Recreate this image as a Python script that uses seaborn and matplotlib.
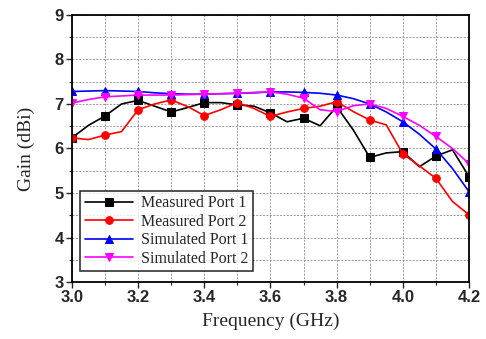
import numpy as np
import pandas as pd
import matplotlib
matplotlib.use("Agg")
import matplotlib.pyplot as plt
import seaborn as sns
from matplotlib.ticker import MultipleLocator

freq = [3.00, 3.05, 3.10, 3.15, 3.20, 3.25, 3.30, 3.35, 3.40, 3.45, 3.50, 3.55,
        3.60, 3.65, 3.70, 3.75, 3.80, 3.85, 3.90, 3.95, 4.00, 4.05, 4.10, 4.15, 4.20]
meas_p1 = [6.24, 6.52, 6.73, 7.00, 7.08, 6.95, 6.82, 6.92, 7.03, 7.03, 6.98, 6.95,
           6.80, 6.60, 6.68, 6.51, 6.94, 6.42, 5.80, 5.90, 5.93, 5.59, 5.83, 5.97, 5.37]
meas_p2 = [6.24, 6.20, 6.30, 6.38, 6.87, 7.00, 7.09, 6.94, 6.74, 6.87, 7.03, 6.90,
           6.72, 6.82, 6.90, 6.95, 7.05, 6.83, 6.64, 6.53, 5.88, 5.61, 5.33, 4.81, 4.51]
sim_p1 = [7.28, 7.29, 7.30, 7.29, 7.28, 7.25, 7.23, 7.22, 7.22, 7.23, 7.24, 7.25,
          7.27, 7.27, 7.26, 7.24, 7.20, 7.12, 7.00, 6.82, 6.60, 6.32, 5.99, 5.55, 5.03]
sim_p2 = [7.02, 7.10, 7.16, 7.18, 7.20, 7.20, 7.20, 7.21, 7.22, 7.23, 7.24, 7.26,
          7.27, 7.22, 7.13, 6.87, 6.83, 6.96, 7.00, 6.90, 6.72, 6.52, 6.27, 6.00, 5.66]

series_names = ["Measured Port 1", "Measured Port 2", "Simulated Port 1", "Simulated Port 2"]
series_vals = [meas_p1, meas_p2, sim_p1, sim_p2]
colors = ["#000000", "#ff0000", "#0000ff", "#ff00ff"]
markers = ["s", "o", "^", "v"]

sns.set_style("ticks")
plt.rcParams["font.family"] = ["Liberation Serif", "DejaVu Serif"]

fig = plt.figure(figsize=(4.86, 3.39), dpi=100)
ax = fig.add_axes([0.148, 0.168, 0.817, 0.788])

for name, vals, c, m in zip(series_names, series_vals, colors, markers):
    df = pd.DataFrame({"Frequency": freq, "Gain": vals})
    sns.lineplot(data=df, x="Frequency", y="Gain", ax=ax, color=c, marker=m,
                 markersize=5.5, markeredgecolor=c, markevery=2, linewidth=1.2,
                 label=name)

ax.set_xlim(3.0, 4.2)
ax.set_ylim(3, 9)
ax.xaxis.set_major_locator(MultipleLocator(0.2))
ax.xaxis.set_minor_locator(MultipleLocator(0.1))
ax.yaxis.set_major_locator(MultipleLocator(1))
ax.yaxis.set_minor_locator(MultipleLocator(0.5))
ax.grid(True, which="both", color="#999999", linestyle=(0, (2, 1.5)), linewidth=0.7)
ax.set_axisbelow(True)

for lab in ax.get_xticklabels() + ax.get_yticklabels():
    lab.set_fontfamily("Liberation Sans")
    lab.set_fontweight("bold")
    lab.set_fontsize(12)
ax.tick_params(which="major", direction="out", length=4, width=1.0, pad=2)
ax.tick_params(which="minor", direction="out", length=2.5, width=0.8)
for s in ax.spines.values():
    s.set_linewidth(1.3)
    s.set_color("black")

ax.set_xlabel("Frequency (GHz)", fontsize=14, labelpad=5)
ax.set_ylabel("Gain (dBi)", fontsize=14, labelpad=14)

leg = ax.legend(loc="lower left", fontsize=11.5, frameon=True, fancybox=False,
                edgecolor="black", handlelength=3.0, handletextpad=0.5,
                labelspacing=0.15, borderpad=0.3, bbox_to_anchor=(0.0, 0.01))
leg.get_frame().set_linewidth(1.2)

fig.savefig("out.png", dpi=100)
